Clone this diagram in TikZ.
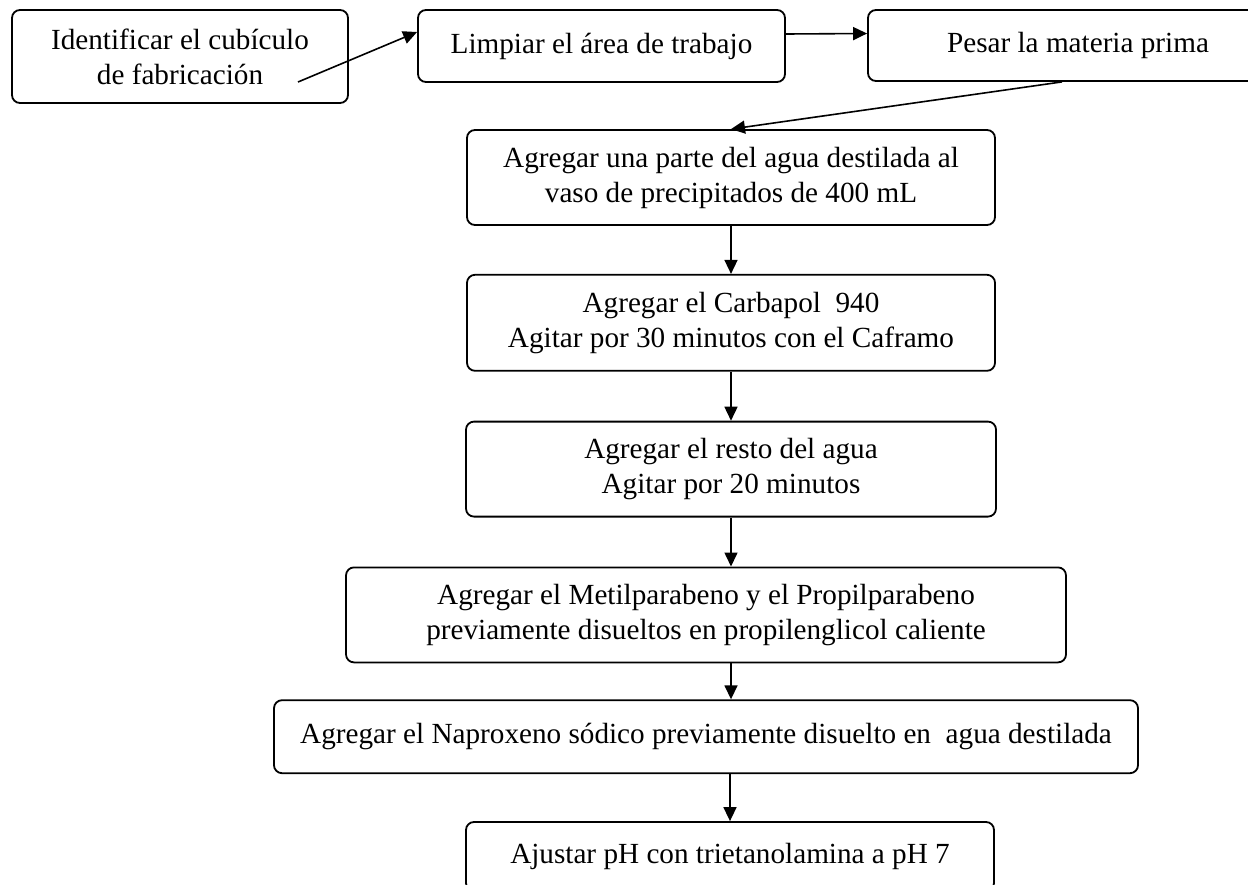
\documentclass[tikz,border=0pt]{standalone}
\usepackage{fontspec}
\setmainfont{Liberation Serif}
\usetikzlibrary{arrows.meta,positioning}

\begin{document}
\begin{tikzpicture}[x=0.5pt,y=-0.5pt,>={Triangle[length=7pt,width=6.5pt]},
  font=\fontsize{14.6}{17.5}\selectfont,
  caja/.style={draw,rounded corners=4pt,line width=0.9pt,align=center,inner sep=0pt},
  flecha/.style={->,line width=0.8pt}]
\useasboundingbox (0,0) rectangle (1248,884);

% fila de arriba
\node[caja,minimum width=168pt,minimum height=46.5pt] (identificar) at (180,56.5) {Identificar el cubículo\\ de fabricación};
\node[caja,minimum width=183.5pt,minimum height=36pt] (limpiar) at (601.5,46) {Limpiar el área de trabajo};
\node[caja,minimum width=210pt,minimum height=35.5pt] (pesar) at (1078,45.5) {Pesar la materia prima};
\coordinate (salida) at (298,82);

% columna
\node[caja,minimum width=264pt,minimum height=47.5pt] (agua) at (731,177.5) {Agregar una parte del agua destilada al\\ vaso de precipitados de 400 mL};
\node[caja,minimum width=264pt,minimum height=48pt] (carbapol) [below=24pt of agua] {Agregar el Carbapol~~940\\ Agitar por 30 minutos con el Caframo};
\node[caja,minimum width=265pt,minimum height=47.5pt] (resto) [below=24.5pt of carbapol] {Agregar el resto del agua\\ Agitar por 20 minutos};
\node[caja,minimum width=360pt,minimum height=47.5pt] (metil) [below=24.5pt of resto,xshift=-12.5pt] {Agregar el Metilparabeno y el Propilparabeno\\ previamente disueltos en propilenglicol caliente};
\node[caja,minimum width=432pt,minimum height=36.5pt] (naproxeno) [below=18pt of metil] {Agregar el Naproxeno sódico previamente disuelto en~ agua destilada};
\node[caja,minimum width=264pt,minimum height=34.5pt] (ajustar) [below=23.5pt of naproxeno,xshift=12pt] {Ajustar pH con trietanolamina a pH 7};

\draw[flecha] (salida) -- ([yshift=7pt]limpiar.west);
\draw[flecha] ([yshift=6pt]limpiar.east) -- ([yshift=6pt]pesar.west);
\draw[flecha] ([xshift=-8pt]pesar.south) -- (agua.north);
\draw[flecha] (agua) -- (carbapol);
\draw[flecha] (carbapol) -- (resto);
\draw[flecha] (resto.south) -- (resto.south |- metil.north);
\draw[flecha] (resto.south |- metil.south) -- (resto.south |- naproxeno.north);
\draw[flecha] (ajustar.north |- naproxeno.south) -- (ajustar.north);

\end{tikzpicture}
\end{document}
